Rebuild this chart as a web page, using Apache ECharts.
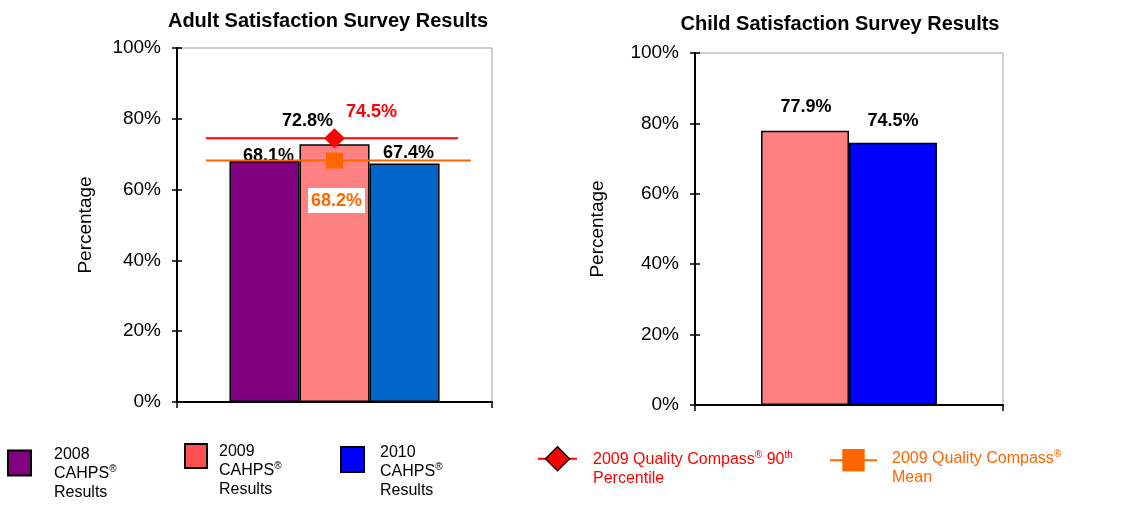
<!DOCTYPE html>
<html>
<head>
<meta charset="utf-8">
<script src="https://cdn.jsdelivr.net/npm/echarts@6/dist/echarts.min.js"></script>
<style>
  html, body { margin: 0; padding: 0; background: #fff; }
  #chart { width: 1136px; height: 506px; }
</style>
</head>
<body>
<div id="chart"></div>
<script>
// ---- data ----
const seriesNames = ['2008 CAHPS® Results', '2009 CAHPS® Results', '2010 CAHPS® Results'];
const adultValues = [68.1, 72.8, 67.4];          // 2008, 2009, 2010
const childValues = [77.9, 74.5];                // 2009, 2010
const compass90thName = '2009 Quality Compass® 90th Percentile';
const compassMeanName = '2009 Quality Compass® Mean';
const compass90th = 74.5;
const compassMean = 68.2;
const yTicks = [0, 20, 40, 60, 80, 100];

// ---- styling ----
const FONT = '"Liberation Sans", Arial, sans-serif';
const adultColors = ['#800080', '#FF8080', '#0066CC'];
const childColors = ['#FF8080', '#0000FF'];
const legendColors = ['#800080', '#FF5050', '#0000FF'];
const adultLabelOffsets = [[4, 4], [-27, -14], [4, -1]];
const childLabelOffsets = [[1, -15], [0, -13]];

const pct = v => v.toFixed(1) + '%';

function valueAxis(gridIndex, nameGap, inner) {
  const ax = {
    type: 'value', gridIndex, position: 'left',
    min: yTicks[0], max: yTicks[yTicks.length - 1], interval: yTicks[1] - yTicks[0],
    splitLine: { show: false },
    axisLine: { show: true, lineStyle: { color: '#000', width: 2 } },
    axisTick: { show: true, inside: !!inner, length: 5, lineStyle: { color: '#000', width: 1.5 } },
    axisLabel: { show: !inner, formatter: '{value}%', fontFamily: FONT, fontSize: 19, color: '#000', margin: 16 }
  };
  if (!inner) {
    Object.assign(ax, {
      name: 'Percentage', nameLocation: 'middle', nameRotate: 90, nameGap,
      nameTextStyle: { fontFamily: FONT, fontSize: 19, color: '#000' }
    });
  }
  return ax;
}

function categoryAxis(gridIndex) {
  return {
    type: 'category', gridIndex, data: [''],
    axisLine: { show: true, lineStyle: { color: '#000', width: 2 } },
    axisTick: { show: true, length: 6, lineStyle: { color: '#000', width: 1.5 } },
    axisLabel: { show: false }
  };
}

const barLabel = {
  show: true, position: 'top', distance: 0,
  formatter: p => pct(p.value),
  fontFamily: FONT, fontSize: 18, fontWeight: 'bold', color: '#000'
};

const series = [];

// adult bars
adultValues.forEach((v, i) => {
  series.push({
    type: 'bar', name: seriesNames[i], xAxisIndex: 0, yAxisIndex: 0,
    barGap: '0%', barCategoryGap: '33.3%',
    itemStyle: { color: adultColors[i], borderColor: '#000', borderWidth: 1.5 },
    label: barLabel,
    data: [{ value: v, label: { offset: adultLabelOffsets[i] } }]
  });
});

// child bars
childValues.forEach((v, i) => {
  series.push({
    type: 'bar', name: seriesNames[i + 1], xAxisIndex: 2, yAxisIndex: 2,
    barGap: '0%', barCategoryGap: '42.9%',
    itemStyle: { color: childColors[i], borderColor: '#000', borderWidth: 1.5 },
    label: barLabel,
    data: [{ value: v, label: { offset: childLabelOffsets[i] } }]
  });
});

// benchmark lines with their marker at the middle bar
function benchmark(name, value, color, symbol, symbolSize, xEnd, label) {
  return {
    type: 'line', name, xAxisIndex: 1, yAxisIndex: 0, z: 4,
    symbol, symbolSize,
    itemStyle: { color },
    lineStyle: { color, width: 2 },
    label: { show: false },
    emphasis: { disabled: true },
    data: [
      { value: [0.092, value], symbol: 'none' },
      { value: [0.5, value], label: Object.assign({
          show: true, position: 'inside', formatter: () => pct(value),
          fontFamily: FONT, fontSize: 18, fontWeight: 'bold', color }, label) },
      { value: [xEnd, value], symbol: 'none' }
    ]
  };
}
series.push(benchmark(compass90thName, compass90th, '#FF0000', 'diamond', [21, 20], 0.892,
  { offset: [37, -26] }));
series.push(benchmark(compassMeanName, compassMean, '#FF6600', 'rect', [17, 16], 0.933,
  { offset: [2, 40], backgroundColor: '#fff', padding: [4, 3, 3, 3] }));

// legends
const txt = { fontFamily: FONT, fontSize: 16, lineHeight: 19 };
function richFor(color) {
  return {
    t: Object.assign({ color }, txt),
    s: { color, fontFamily: FONT, fontSize: 10, lineHeight: 12, verticalAlign: 'top' }
  };
}
function cahpsLegend(i, left, top, w, h, padLeft, padTop) {
  const year = seriesNames[i].slice(0, 4);
  return {
    left, top, padding: 0, selectedMode: false,
    icon: 'rect', itemWidth: w, itemHeight: h,
    data: [{ name: seriesNames[i], itemStyle: { color: legendColors[i], borderColor: '#000', borderWidth: 2 } }],
    formatter: () => `{t|${year}}\n{t|CAHPS}{s|®}\n{t|Results}`,
    textStyle: { padding: [padTop, 0, 0, padLeft], rich: richFor('#000') }
  };
}

const legends = [
  cahpsLegend(0, 7, 447, 23, 25, 18, 22),
  cahpsLegend(1, 184, 443, 22, 24, 7, 30),
  cahpsLegend(2, 340, 445, 23, 25, 11, 25),
  {
    left: 537, top: 446, padding: 0, selectedMode: false,
    itemWidth: 39, itemHeight: 30,
    data: [{ name: compass90thName,
      itemStyle: { color: '#FF0000', borderColor: '#000', borderWidth: 1.5 },
      lineStyle: { color: '#FF0000', width: 2 } }],
    formatter: () => '{t|2009 Quality Compass}{s|®}{t| 90}{s|th}\n{t|Percentile}',
    textStyle: { padding: [20, 0, 0, 11], rich: richFor('#FF0000') }
  },
  {
    left: 829, top: 449, padding: 0, selectedMode: false,
    itemWidth: 47, itemHeight: 28,
    data: [{ name: compassMeanName,
      itemStyle: { color: '#FF6600' },
      lineStyle: { color: '#FF6600', width: 2 } }],
    formatter: () => '{t|2009 Quality Compass}{s|®}\n{t|Mean}',
    textStyle: { padding: [16, 0, 0, 10], rich: richFor('#FF6600') }
  }
];

const titleStyle = { fontFamily: FONT, fontSize: 20, fontWeight: 'bold', color: '#000' };

const option = {
  animation: false,
  backgroundColor: '#fff',
  title: [
    { text: 'Adult Satisfaction Survey Results', left: 323, top: 6, textAlign: 'center', textStyle: titleStyle },
    { text: 'Child Satisfaction Survey Results', left: 835, top: 9, textAlign: 'center', textStyle: titleStyle }
  ],
  legend: legends,
  grid: [
    { left: 177, top: 48, width: 315, height: 354, show: true, borderColor: '#A0A0A0', borderWidth: 1, backgroundColor: '#fff' },
    { left: 695, top: 53, width: 308, height: 352, show: true, borderColor: '#A0A0A0', borderWidth: 1, backgroundColor: '#fff' }
  ],
  xAxis: [
    categoryAxis(0),
    { type: 'value', gridIndex: 0, min: 0, max: 1, show: false },
    categoryAxis(1)
  ],
  yAxis: [
    valueAxis(0, 82, false),
    valueAxis(0, 0, true),
    valueAxis(1, 88, false),
    valueAxis(1, 0, true)
  ],
  series
};

const chart = echarts.init(document.getElementById('chart'), null, { renderer: 'canvas' });
chart.setOption(option);
</script>
</body>
</html>
